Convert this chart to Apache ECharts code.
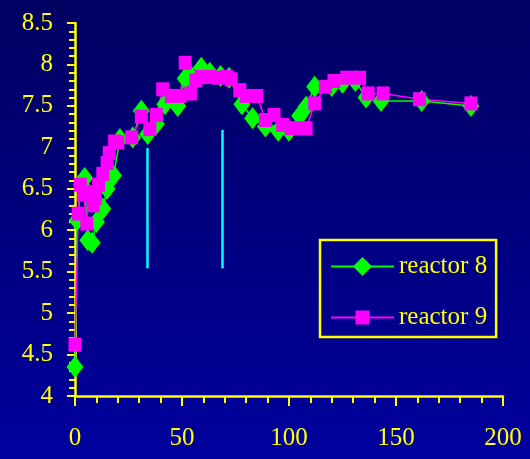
<!DOCTYPE html>
<html>
<head>
<meta charset="utf-8">
<script src="https://cdn.jsdelivr.net/npm/echarts@6/dist/echarts.min.js"></script>
<style>
html,body{margin:0;padding:0;}
#c{width:530px;height:459px;background:linear-gradient(to bottom,#000062 0%,#00009e 100%);}
</style>
</head>
<body>
<div id="c"></div>
<script>
// Data
const reactor8 = [[0,4.35],[1,6.12],[3,6.55],[4.5,6.63],[6,5.88],[8,5.85],[10,6.1],[13,6.26],[15,6.5],[18,6.66],[21,7.1],[27,7.12],[31,7.44],[34,7.16],[38,7.28],[42,7.52],[48,7.5],[51.5,7.83],[54,7.86],[59,7.96],[63,7.9],[68,7.86],[72,7.84],[78,7.52],[83,7.35],[89,7.25],[95,7.2],[100,7.2],[105,7.38],[108,7.49],[112,7.73],[120,7.74],[125,7.78],[131,7.8],[136,7.6],[143,7.56],[162,7.56],[185,7.5]];
const reactor9 = [[0,4.62],[1.5,6.2],[2.5,6.55],[4,6.43],[5.5,6.08],[6.5,6.46],[8.5,6.3],[9.5,6.39],[11,6.55],[13,6.68],[15,6.81],[16,6.93],[18.5,7.07],[20,7.06],[26.5,7.12],[31,7.37],[35,7.22],[38,7.39],[41,7.7],[45,7.62],[49,7.62],[51.5,8.02],[54,7.65],[56.5,7.81],[59,7.85],[63,7.85],[67,7.84],[71,7.85],[73,7.82],[77,7.69],[80,7.62],[85,7.62],[89,7.33],[93,7.39],[97,7.27],[101,7.23],[105,7.23],[108,7.23],[112,7.53],[117,7.73],[121,7.8],[127,7.84],[133,7.84],[137,7.65],[144,7.65],[161,7.58],[185,7.53]];
const markerLines = [[33.7,5.54,6.99],[68.8,5.54,7.21]];
const seriesNames = ['reactor 8','reactor 9'];
const xTicks = {min:0,max:200,interval:50};
const yTicks = {min:4,max:8.5,interval:0.5};

const chart = echarts.init(document.getElementById('c'),null,{renderer:'canvas'});
const yellow = '#ffff00';
const font = "'Liberation Serif','Times New Roman',serif";
const legendText = {color:yellow,fontFamily:font,fontSize:25};
chart.setOption({
  backgroundColor:'transparent',
  animation:false,
  grid:{left:75,right:27,top:23,bottom:63},
  xAxis:{type:'value',min:xTicks.min,max:xTicks.max,interval:xTicks.interval,
    axisLine:{onZero:false,lineStyle:{color:yellow,width:2.5}},
    axisTick:{show:true,length:10,lineStyle:{color:yellow,width:2}},
    minorTick:{show:true,splitNumber:5,length:7,lineStyle:{color:yellow,width:2}},
    splitLine:{show:false},
    axisLabel:{color:yellow,fontFamily:font,fontSize:25,margin:30}},
  yAxis:{type:'value',min:yTicks.min,max:yTicks.max,interval:yTicks.interval,
    axisLine:{lineStyle:{color:yellow,width:2.5}},
    axisTick:{show:true,length:8,lineStyle:{color:yellow,width:2}},
    minorTick:{show:true,splitNumber:5,length:6,lineStyle:{color:yellow,width:2}},
    splitLine:{show:false},
    axisLabel:{color:yellow,fontFamily:font,fontSize:25,margin:22,
      formatter:v=>String(v)}},
  legend:[
    {orient:'vertical',left:320,top:240,
      padding:[14,9,58,10],itemWidth:63,itemHeight:24,
      borderColor:yellow,borderWidth:2.5,borderRadius:0,
      textStyle:legendText,data:[seriesNames[0]]},
    {orient:'vertical',left:330,top:305,padding:0,itemWidth:63,itemHeight:17.5,
      textStyle:legendText,data:[seriesNames[1]]}
  ],
  series:[
    {name:seriesNames[0],type:'line',data:reactor8,symbol:'diamond',symbolSize:[17,22],
      itemStyle:{color:'#00ff00'},lineStyle:{color:'#00ff00',width:1.5}},
    {name:seriesNames[1],type:'line',data:reactor9,symbol:'rect',symbolSize:[13,14],
      itemStyle:{color:'#ff00ff'},lineStyle:{color:'#ff00ff',width:1.5}},
    {name:'lines',type:'line',data:[],silent:true,
      markLine:{symbol:['none','none'],silent:true,label:{show:false},
        lineStyle:{color:'#00ffff',width:2.5,type:'solid'},
        data:markerLines.map(m=>[{coord:[m[0],m[1]]},{coord:[m[0],m[2]]}])}}
  ]
});
</script>
</body>
</html>
